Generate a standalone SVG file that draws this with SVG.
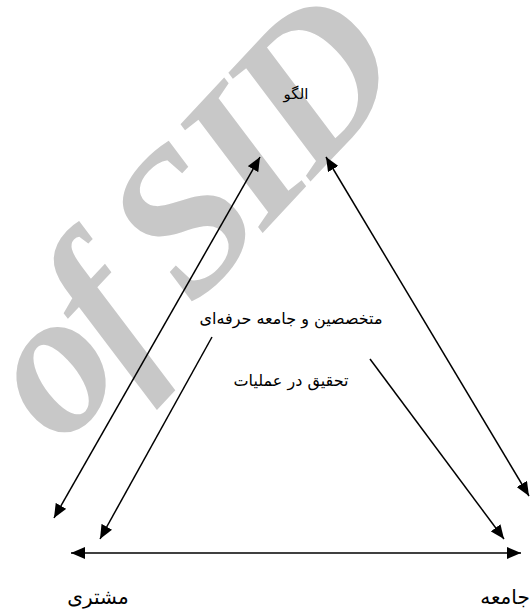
<svg xmlns="http://www.w3.org/2000/svg" width="532" height="615" viewBox="0 0 532 615">
<style>
.lbl{font-family:"DejaVu Sans","Noto Sans",sans-serif;font-size:16px;fill:#000;text-anchor:middle}
.big{font-size:20px}
.con{stroke:#000;stroke-width:1.5;fill:none}
.wm{font-family:"Liberation Serif","Times New Roman",serif;font-weight:bold;font-style:italic;font-size:205px;letter-spacing:-10px;fill:#c8c8c8}
</style>
<defs>
<marker id="ah" viewBox="0 0 14 12" refX="14" refY="6" markerWidth="14" markerHeight="12" markerUnits="userSpaceOnUse" orient="auto-start-reverse">
<path d="M0,0 L14,6 L0,12 z" fill="#000"/>
</marker>
</defs>
<rect width="532" height="615" fill="#fff"/>
<text class="wm" x="0" y="0" transform="translate(62 448) rotate(-47)">of SID</text>
<g id="connectors">
<line class="con" x1="260" y1="157" x2="54" y2="518" marker-start="url(#ah)" marker-end="url(#ah)"/>
<line class="con" x1="326" y1="157" x2="529" y2="496" marker-start="url(#ah)" marker-end="url(#ah)"/>
<line class="con" x1="212" y1="337" x2="100" y2="539" marker-end="url(#ah)"/>
<line class="con" x1="370" y1="359" x2="504" y2="539" marker-end="url(#ah)"/>
<line class="con" x1="71" y1="553" x2="521" y2="553" marker-start="url(#ah)" marker-end="url(#ah)"/>
</g>
<g id="node-olgoo"><text class="lbl" x="296" y="99" style="font-size:15px">الگو</text></g>
<g id="node-experts"><text class="lbl" x="291" y="324">متخصصین و جامعه حرفه‌ای</text></g>
<g id="node-or"><text class="lbl" x="291" y="386">تحقیق در عملیات</text></g>
<g id="node-customer"><text class="lbl big" x="98" y="604">مشتری</text></g>
<g id="node-society"><text class="lbl big" x="505" y="604">جامعه</text></g>
</svg>
